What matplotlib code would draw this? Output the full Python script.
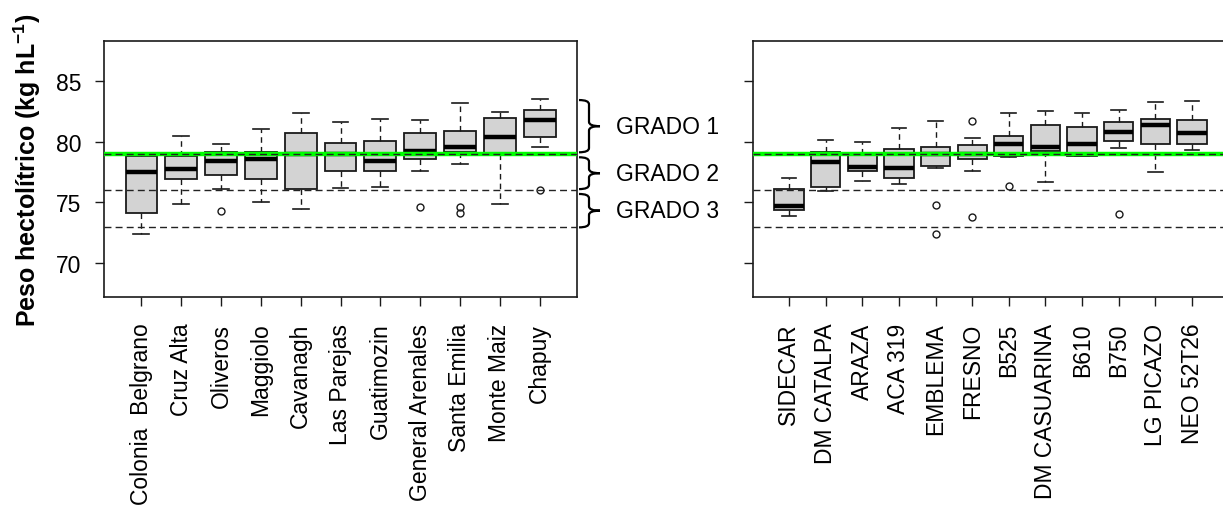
import matplotlib
matplotlib.use("Agg")
import matplotlib.pyplot as plt
from matplotlib import transforms
from matplotlib.path import Path
from matplotlib.patches import PathPatch

plt.rcParams['font.family'] = ['Liberation Sans', 'DejaVu Sans']
plt.rcParams['mathtext.fontset'] = 'custom'
plt.rcParams['mathtext.rm'] = 'Liberation Sans'
plt.rcParams['mathtext.bf'] = 'Liberation Sans:bold'

# localidades (panel izquierdo)
loc_names = ['Colonia  Belgrano', 'Cruz Alta', 'Oliveros', 'Maggiolo', 'Cavanagh',
             'Las Parejas', 'Guatimozin', 'General Arenales', 'Santa Emilia',
             'Monte Maiz', 'Chapuy']
loc_q1 = [74.13, 76.90, 77.26, 76.90, 76.10, 77.62, 77.62, 78.60, 79.13, 79.00, 80.35]
loc_med = [77.50, 77.77, 78.40, 78.59, 79.00, 79.00, 78.44, 79.20, 79.54, 80.35, 81.77]
loc_q3 = [78.85, 78.83, 79.18, 79.18, 80.69, 79.87, 80.08, 80.73, 80.87, 81.96, 82.60]
loc_lo = [72.40, 74.84, 76.09, 75.00, 74.50, 76.23, 76.30, 77.60, 78.20, 74.86, 79.57]
loc_hi = [78.90, 80.49, 79.84, 81.03, 82.35, 81.64, 81.86, 81.80, 83.20, 82.45, 83.48]
loc_out = [[], [], [74.27], [], [], [], [], [74.65], [74.65, 74.10], [], [76.00]]

# cultivares (panel derecho)
cul_names = ['SIDECAR', 'DM CATALPA', 'ARAZA', 'ACA 319', 'EMBLEMA', 'FRESNO', 'B525',
             'DM CASUARINA', 'B610', 'B750', 'LG PICAZO', 'NEO 52T26']
cul_q1 = [74.40, 76.26, 77.57, 77.00, 78.03, 78.59, 78.86, 79.26, 78.80, 80.08, 79.81, 79.81]
cul_med = [74.70, 78.31, 77.93, 77.82, 79.00, 79.00, 79.78, 79.59, 79.81, 80.77, 81.39, 80.71]
cul_q3 = [76.11, 79.13, 79.00, 79.40, 79.59, 79.73, 80.43, 81.39, 81.23, 81.59, 81.86, 81.75]
cul_lo = [73.89, 75.98, 76.80, 76.48, 77.82, 77.60, 78.75, 76.67, 78.80, 79.48, 77.49, 79.34]
cul_hi = [77.01, 80.16, 80.00, 81.10, 81.72, 80.27, 82.40, 82.54, 82.33, 82.60, 83.23, 83.36]
cul_out = [[], [], [], [], [74.81, 72.39], [81.74, 73.78], [76.39], [], [], [74.08], [], []]

# limites de grado
grade_lines = [79, 76, 73]
grade_labels = ['GRADO 1', 'GRADO 2', 'GRADO 3']
grade_tops = [83.43, 78.72, 75.70]
grade_bots = [79.13, 76.10, 72.95]

W, H = 1223, 506
fig = plt.figure(figsize=(W / 100, H / 100), dpi=100)

FS = 16.5
EDGE = '#1a1a1a'


def panel(rect, names, q1, med, q3, lo, hi, out, show_ylab):
    ax = fig.add_axes(rect)
    n = len(names)
    stats = [dict(q1=a, med=m, q3=b, whislo=l, whishi=h, fliers=f)
             for a, m, b, l, h, f in zip(q1, med, q3, lo, hi, out)]
    ax.bxp(stats, positions=list(range(1, n + 1)), widths=0.8, capwidths=0.4,
           patch_artist=True, showfliers=True,
           boxprops=dict(facecolor='#d3d3d3', edgecolor=EDGE, linewidth=1.3),
           medianprops=dict(color='black', linewidth=3.2),
           whiskerprops=dict(color=EDGE, linewidth=1, linestyle=(0, (4, 3))),
           capprops=dict(color=EDGE, linewidth=1.2),
           flierprops=dict(marker='o', markerfacecolor='none', markeredgecolor=EDGE,
                           markersize=5, markeredgewidth=1))
    ax.axhline(grade_lines[0], color='#00ff00', lw=3.2, zorder=4)
    for g in grade_lines:
        ax.axhline(g, color='#222222', lw=1, ls=(0, (5, 3)), zorder=5)
    ax.set_xlim(0.5 - 0.04 * n, n + 0.5 + 0.04 * n)
    ax.set_ylim(67.22, 88.29)
    ax.set_xticks(list(range(1, n + 1)))
    ax.set_xticklabels(names, rotation=90)
    ax.set_yticks([70, 75, 80, 85])
    if not show_ylab:
        ax.set_yticklabels([])
    ax.tick_params(axis='x', length=6.5, width=1, pad=12, labelsize=FS, color=EDGE)
    ax.tick_params(axis='y', length=6.5, width=1, pad=10, labelsize=FS, color=EDGE)
    for s in ax.spines.values():
        s.set_color(EDGE)
        s.set_linewidth(1.2)
    return ax


ax1 = panel([104 / W, 1 - 298 / H, 473 / W, 256 / H], loc_names, loc_q1, loc_med,
            loc_q3, loc_lo, loc_hi, loc_out, True)
ax2 = panel([753 / W, 1 - 298 / H, 475 / W, 256 / H], cul_names, cul_q1, cul_med,
            cul_q3, cul_lo, cul_hi, cul_out, False)

ax1.set_ylabel(r'Peso hectolítrico (kg hL$^{\mathbf{-1}}$)', fontsize=18,
               fontweight='bold', labelpad=9)

# llaves de grado entre los paneles
tr = transforms.blended_transform_factory(fig.transFigure, ax1.transData)
x0, x1, x2 = 579 / W, 589 / W, 600 / W
r = 0.35
for top, bot, lab in zip(grade_tops, grade_bots, grade_labels):
    mid = (top + bot) / 2
    verts = [(x0, top), (x1, top), (x1, top - r),
             (x1, mid + r), (x1, mid), (x2, mid),
             (x2, mid), (x1, mid), (x1, mid - r),
             (x1, bot + r), (x1, bot), (x0, bot)]
    codes = [Path.MOVETO, Path.CURVE3, Path.CURVE3,
             Path.LINETO, Path.CURVE3, Path.CURVE3,
             Path.MOVETO, Path.CURVE3, Path.CURVE3,
             Path.LINETO, Path.CURVE3, Path.CURVE3]
    fig.add_artist(PathPatch(Path(verts, codes), transform=tr, fill=False,
                             edgecolor='black', lw=1.6))
    fig.text(616 / W, mid, lab, transform=tr, fontsize=FS, va='center', ha='left')

fig.savefig('out.png', dpi=100)
